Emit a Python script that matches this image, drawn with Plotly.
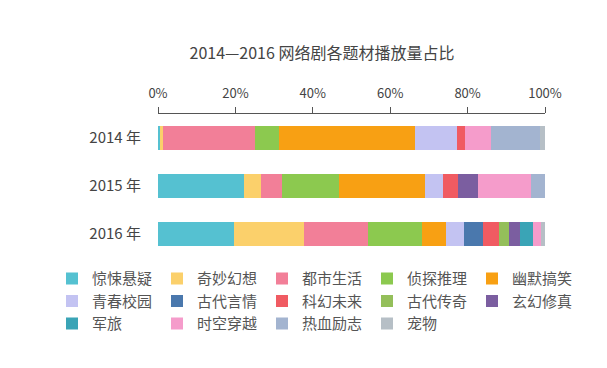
import plotly.graph_objects as go

years = ["2014 年", "2015 年", "2016 年"]
genres = ["惊悚悬疑", "奇妙幻想", "都市生活", "侦探推理", "幽默搞笑",
          "青春校园", "古代言情", "科幻未来", "古代传奇", "玄幻修真",
          "军旅", "时空穿越", "热血励志", "宠物"]
# share (%) per genre for 2014, 2015, 2016
v_jingsong = [0.5, 22.2, 19.6]
v_qimiao = [0.8, 4.3, 18.1]
v_dushi = [23.7, 5.6, 16.6]
v_zhentan = [6.3, 14.6, 14.0]
v_youmo = [35.0, 22.4, 6.2]
v_qingchun = [10.9, 4.5, 4.6]
v_gudaiyanqing = [0.0, 0.0, 4.9]
v_kehuan = [2.0, 3.9, 4.1]
v_gudaichuanqi = [0.0, 0.0, 2.6]
v_xuanhuan = [0.0, 5.2, 2.9]
v_junlv = [0.0, 0.0, 3.4]
v_shikong = [6.9, 13.8, 2.0]
v_rexue = [12.6, 3.5, 0.0]
v_chongwu = [1.3, 0.0, 1.0]
series = [v_jingsong, v_qimiao, v_dushi, v_zhentan, v_youmo, v_qingchun,
          v_gudaiyanqing, v_kehuan, v_gudaichuanqi, v_xuanhuan, v_junlv,
          v_shikong, v_rexue, v_chongwu]
colors = ["#55c1d1", "#fbd06b", "#f27f98", "#8cc94f", "#f8a013",
          "#c3c3f2", "#4a78ad", "#f05b62", "#94bf5a", "#7b5ea0",
          "#3aa4b6", "#f59ccb", "#a3b4d0", "#b6bfc6"]
xticks = [0, 20, 40, 60, 80, 100]
xticklabels = ["0%", "20%", "40%", "60%", "80%", "100%"]

FONT = "Noto Sans CJK SC"

fig = go.Figure()
for name, vals, col in zip(genres, series, colors):
    fig.add_trace(go.Bar(
        y=years, x=vals, name=name, orientation="h",
        marker=dict(color=col, line=dict(width=0)),
        width=0.48,
    ))

fig.update_layout(
    barmode="stack",
    width=607, height=368,
    margin=dict(l=158, r=62, t=114, b=110, autoexpand=False),
    paper_bgcolor="white", plot_bgcolor="white",
    font=dict(family=FONT, color="#444", size=13),
    title=dict(text="2014—2016 网络剧各题材播放量占比",
               x=322 / 607, xanchor="center", y=1 - 53 / 368, yanchor="middle",
               font=dict(size=16, color="#444", family=FONT)),
    xaxis=dict(side="top", range=[0, 100], tickvals=xticks, ticktext=xticklabels,
               showgrid=False, zeroline=False, showline=True, linecolor="#555",
               linewidth=1, ticks="outside", ticklen=6, tickcolor="#555",
               ticklabelstandoff=4,
               tickfont=dict(size=13, color="#444"), fixedrange=True),
    yaxis=dict(autorange="reversed", showgrid=False, zeroline=False,
               showline=False, ticks="", tickfont=dict(size=15, color="#444"),
               ticklabelstandoff=16, fixedrange=True),
    legend=dict(orientation="h", x=(52 - 158) / 387, xanchor="left",
                y=-0.03, yanchor="top", entrywidth=60, entrywidthmode="pixels",
                font=dict(size=15, color="#555", family=FONT),
                traceorder="normal", itemwidth=30),
    showlegend=True,
)

fig.write_html("out.html")
